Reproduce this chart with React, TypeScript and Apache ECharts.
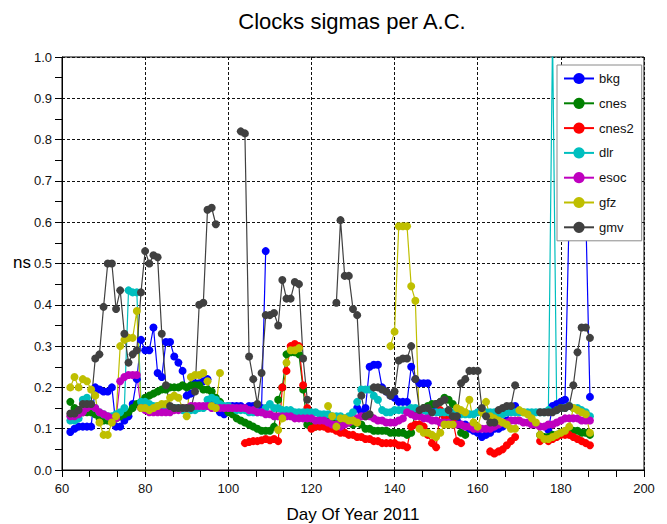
import React, { useEffect, useRef } from "react";
import * as echarts from "echarts";

const N = null;
const FIRST_DAY = 62;
const SERIES_NAMES = ["bkg", "cnes", "cnes2", "dlr", "esoc", "gfz", "gmv"];
const SERIES_COLORS = ["#0000ff", "#008000", "#ff0000", "#00bfbf", "#bf00bf", "#bfbf00", "#404040"];
const X_TICKS = [60, 80, 100, 120, 140, 160, 180, 200];
const Y_TICKS = [0, 0.1, 0.2, 0.3, 0.4, 0.5, 0.6, 0.7, 0.8, 0.9, 1.0];

// values per day, from day 62 to day 187
const bkg = [
  0.092, 0.10, 0.105, 0.105, 0.105, 0.105, 0.20, 0.195, 0.19, 0.19,
  0.20, 0.105, 0.105, 0.12, 0.13, 0.16, 0.22, 0.315, 0.29, 0.29,
  0.345, 0.235, 0.225, 0.31, 0.31, 0.275, 0.26, 0.24, 0.18, 0.185,
  0.21, 0.21, 0.215, 0.22, 0.17, 0.155, 0.14, 0.135, 0.155, 0.155,
  0.155, 0.155, 0.15, 0.155, 0.155, 0.155, 0.15, 0.53, N, N,
  N, N, N, N, N, N, N, N, N, N,
  N, N, N, N, N, N, N, N, N, 0.15,
  0.14, 0.15, 0.25, 0.255, 0.255, 0.20, 0.19, 0.18, 0.175, 0.165,
  0.165, 0.165, 0.25, 0.22, 0.21, 0.21, 0.21, 0.155, 0.15, 0.14,
  0.13, 0.13, 0.12, 0.12, 0.11, 0.11, 0.10, 0.095, 0.09, 0.08,
  0.085, 0.09, 0.10, 0.10, 0.105, 0.12, 0.15, 0.155, N, N,
  N, N, N, N, N, 0.097, 0.155, 0.16, 0.165, 0.17,
  0.62, 0.72, 0.75, 0.72, 0.62, 0.177,
];

const cnes = [
  0.165, 0.15, 0.145, 0.14, 0.14, 0.14, 0.135, 0.125, 0.12, 0.12,
  0.12, 0.125, 0.13, 0.135, 0.14, 0.15, 0.16, 0.165, 0.175, 0.18,
  0.185, 0.19, 0.195, 0.195, 0.20, 0.20, 0.20, 0.205, 0.20, 0.205,
  0.205, 0.205, 0.195, 0.195, 0.19, 0.175, 0.165, 0.15, 0.14, 0.135,
  0.125, 0.12, 0.115, 0.11, 0.105, 0.10, 0.095, 0.095, 0.095, 0.105,
  0.17, 0.20, 0.28, 0.285, 0.285, 0.28, 0.195, 0.11, 0.105, 0.105,
  0.11, 0.11, 0.12, 0.115, 0.115, 0.12, 0.115, 0.115, 0.11, 0.115,
  0.11, 0.10, 0.10, 0.095, 0.095, 0.095, 0.095, 0.09, 0.09, 0.09,
  0.09, 0.085, 0.09, 0.14, 0.145, 0.15, 0.155, 0.16, 0.16, 0.165,
  0.175, 0.17, 0.16, 0.145, 0.09, 0.085, N, N, N, N,
  N, N, N, N, N, N, N, N, N, N,
  N, N, N, 0.085, 0.08, 0.08, 0.085, 0.085, 0.09, 0.09,
  0.09, 0.095, 0.095, 0.09, 0.09, 0.085,
];

const cnes2 = [
  N, N, N, N, N, N, N, N, N, N,
  N, N, N, N, N, N, N, N, N, N,
  N, N, N, N, N, N, N, N, N, N,
  N, N, N, N, N, N, N, N, N, N,
  N, N, 0.065, 0.068, 0.07, 0.07, 0.072, 0.075, 0.072, 0.075,
  0.07, 0.20, 0.24, 0.30, 0.305, 0.30, 0.205, 0.15, 0.10, 0.105,
  0.105, 0.105, 0.10, 0.10, 0.095, 0.09, 0.09, 0.085, 0.085, 0.08,
  0.08, 0.075, 0.075, 0.07, 0.07, 0.065, 0.065, 0.065, 0.065, 0.06,
  0.06, 0.055, 0.105, 0.11, 0.11, 0.105, 0.085, 0.065, 0.055, 0.145,
  0.13, 0.125, 0.12, 0.07, 0.065, N, N, N, N, N,
  N, 0.045, 0.04, 0.045, 0.05, 0.06, 0.07, 0.08, N, N,
  N, N, N, 0.07, 0.075, 0.07, 0.075, 0.08, 0.085, 0.085,
  0.085, 0.08, 0.075, 0.07, 0.065, 0.06,
];

const dlr = [
  0.12, 0.12, 0.125, 0.17, 0.175, 0.16, 0.15, 0.14, 0.135, 0.13,
  0.13, 0.135, 0.14, 0.15, 0.435, 0.43, 0.43, 0.165, 0.165, 0.16,
  0.155, 0.155, 0.15, 0.15, 0.15, 0.15, 0.15, 0.145, 0.145, 0.145,
  0.145, 0.15, 0.15, 0.17, 0.175, 0.17, 0.16, 0.155, 0.155, 0.15,
  0.145, 0.145, 0.145, 0.14, 0.14, 0.14, 0.14, 0.15, 0.16, 0.15,
  0.15, 0.145, 0.145, 0.145, 0.14, 0.14, 0.14, 0.14, 0.14, 0.14,
  0.135, 0.135, 0.135, 0.13, 0.13, 0.13, 0.125, 0.13, 0.14, 0.165,
  0.195, 0.195, 0.195, 0.18, 0.17, 0.145, 0.14, 0.14, 0.145, 0.145,
  0.145, 0.145, 0.15, 0.15, 0.145, 0.145, 0.14, 0.14, 0.14, 0.14,
  0.14, 0.14, 0.14, 0.14, 0.135, 0.135, 0.135, 0.135, 0.14, 0.14,
  0.14, 0.14, 0.14, 0.135, 0.135, 0.14, 0.14, 0.14, 0.14, 0.14,
  0.14, 0.14, 0.14, 0.14, 0.14, 0.145, 1.05, 0.145, 0.15, 0.15,
  0.155, 0.15, 0.15, 0.145, 0.14, 0.13,
];

const esoc = [
  0.13, 0.13, 0.135, 0.14, 0.15, 0.155, 0.15, 0.14, 0.135, 0.13,
  0.125, 0.125, 0.215, 0.225, 0.23, 0.23, 0.23, 0.15, 0.145, 0.14,
  0.14, 0.14, 0.14, 0.14, 0.14, 0.145, 0.145, 0.15, 0.15, 0.155,
  0.155, 0.155, 0.155, 0.155, 0.15, 0.15, 0.15, 0.15, 0.15, 0.15,
  0.15, 0.15, 0.15, 0.145, 0.145, 0.14, 0.14, 0.135, 0.135, 0.13,
  0.13, 0.13, 0.13, 0.13, 0.125, 0.125, 0.125, 0.125, 0.125, 0.12,
  0.12, 0.12, 0.115, 0.11, 0.11, 0.105, 0.11, 0.115, 0.12, 0.125,
  0.13, 0.13, 0.13, 0.125, 0.12, 0.12, 0.115, 0.115, 0.115, 0.12,
  0.125, 0.14, 0.135, 0.13, 0.13, 0.125, 0.125, 0.12, 0.12, 0.115,
  0.115, 0.115, 0.11, 0.11, 0.11, 0.105, 0.105, 0.10, 0.10, 0.10,
  0.10, 0.10, 0.105, 0.11, 0.115, 0.115, 0.12, 0.12, 0.12, 0.115,
  0.115, 0.11, 0.11, 0.105, 0.105, 0.11, 0.11, 0.115, 0.12, 0.125,
  0.125, 0.125, 0.125, 0.12, 0.12, 0.12,
];

const gfz = [
  0.20, 0.225, 0.20, 0.22, 0.215, 0.195, 0.18, 0.115, 0.085, 0.085,
  0.115, 0.13, 0.30, 0.315, 0.32, 0.32, 0.385, 0.15, 0.15, 0.145,
  0.15, 0.155, 0.16, 0.16, 0.175, 0.18, 0.175, 0.15, 0.13, 0.225,
  0.23, 0.23, 0.235, 0.215, 0.155, 0.15, 0.235, N, N, N,
  N, N, N, N, N, N, N, N, N, N,
  0.097, 0.125, 0.26, 0.29, 0.29, 0.295, N, N, N, N,
  N, N, 0.155, 0.13, 0.105, 0.125, 0.125, 0.12, 0.12, 0.115,
  N, N, N, N, N, N, N, 0.30, 0.335, 0.59,
  0.59, 0.59, 0.445, 0.41, 0.10, 0.09, 0.09, 0.085, 0.08, 0.09,
  0.11, 0.11, 0.11, 0.15, 0.145, 0.14, 0.17, 0.115, 0.105, 0.14,
  0.165, 0.13, 0.125, 0.12, 0.115, 0.11, 0.10, 0.10, 0.145, 0.14,
  0.135, 0.125, 0.115, 0.085, 0.075, 0.075, 0.08, 0.085, 0.09, 0.095,
  0.105, 0.15, 0.145, 0.14, 0.135, 0.09,
];

const gmv = [
  0.137, 0.137, 0.145, 0.16, 0.16, 0.16, 0.27, 0.28, 0.395, 0.50,
  0.50, 0.39, 0.435, 0.33, 0.26, 0.28, 0.29, 0.43, 0.53, 0.50,
  0.52, 0.515, 0.33, 0.205, 0.155, 0.15, 0.15, 0.15, 0.15, 0.15,
  0.19, 0.40, 0.405, 0.63, 0.635, 0.595, N, N, N, N,
  N, 0.82, 0.815, 0.275, 0.22, 0.16, 0.235, 0.375, 0.375, 0.38,
  0.35, 0.46, 0.415, 0.415, 0.455, 0.45, 0.27, 0.17, N, N,
  N, N, N, N, 0.405, 0.605, 0.47, 0.47, 0.39, 0.375,
  0.18, 0.13, 0.135, 0.20, 0.20, 0.195, 0.19, 0.18, 0.19, 0.265,
  0.27, 0.27, 0.30, 0.22, 0.145, 0.15, 0.15, 0.14, 0.16, 0.165,
  0.17, 0.145, 0.13, 0.13, 0.21, 0.22, 0.24, 0.24, 0.24, 0.15,
  0.13, 0.115, 0.115, 0.145, 0.15, 0.155, 0.155, 0.205, N, N,
  N, N, N, 0.14, 0.14, 0.14, 0.14, 0.145, 0.15, 0.15,
  0.155, 0.205, 0.285, 0.345, 0.345, 0.32,
];

const SERIES_VALUES = [bkg, cnes, cnes2, dlr, esoc, gfz, gmv];

const FONT = "'Liberation Sans', Arial, Helvetica, sans-serif";

// layout
const G_LEFT = 62;
const G_RIGHT_EDGE = 644;
const G_TOP = 57;
const G_BOTTOM_EDGE = 470;

export default function App() {
  const ref = useRef<HTMLDivElement>(null);
  useEffect(() => {
    if (!ref.current) return;
    const chart = echarts.init(ref.current, undefined, { renderer: "svg" });
    const series = SERIES_NAMES.map((name, si) => ({
      name,
      type: "line",
      data: SERIES_VALUES[si].map((v, i) => [FIRST_DAY + i, v]),
      symbol: "circle",
      symbolSize: 8,
      showSymbol: true,
      showAllSymbol: true,
      connectNulls: false,
      clip: true,
      color: SERIES_COLORS[si],
      itemStyle: { color: SERIES_COLORS[si] },
      lineStyle: { color: SERIES_COLORS[si], width: 1.2 },
      emphasis: { disabled: true },
    }));
    chart.setOption({
      animation: false,
      backgroundColor: "#ffffff",
      textStyle: { fontFamily: FONT },
      grid: {
        left: G_LEFT,
        right: 667 - G_RIGHT_EDGE,
        top: G_TOP,
        bottom: 524 - G_BOTTOM_EDGE,
        show: true,
        borderColor: "#000",
        borderWidth: 1,
        backgroundColor: "transparent",
      },
      xAxis: {
        type: "value",
        min: X_TICKS[0],
        max: X_TICKS[X_TICKS.length - 1],
        interval: 20,
        axisLine: { show: true, lineStyle: { color: "#000", width: 1 } },
        axisTick: { show: true, inside: false, length: 7, lineStyle: { color: "#000" } },
        minorTick: { show: true, splitNumber: 3, length: 7, lineStyle: { color: "#000" } },
        axisLabel: { color: "#111", fontSize: 13, margin: 12, fontFamily: FONT },
        splitLine: { show: true, lineStyle: { color: "#111", type: [3, 2], width: 1 } },
      },
      yAxis: {
        type: "value",
        min: Y_TICKS[0],
        max: Y_TICKS[Y_TICKS.length - 1],
        interval: 0.1,
        axisLine: { show: true, lineStyle: { color: "#000", width: 1 } },
        axisTick: { show: true, inside: false, length: 7, lineStyle: { color: "#000" } },
        minorTick: { show: true, splitNumber: 2, length: 7, lineStyle: { color: "#000" } },
        axisLabel: {
          color: "#111",
          fontSize: 13,
          margin: 10,
          fontFamily: FONT,
          formatter: (v: number) => v.toFixed(1),
        },
        splitLine: { show: true, lineStyle: { color: "#111", type: [3, 2], width: 1 } },
      },
      legend: {
        show: true,
        orient: "vertical",
        left: 557,
        top: 65,
        padding: [7, 8, 7, 6],
        itemWidth: 30,
        itemHeight: 14,
        itemGap: 11.8,
        backgroundColor: "#ffffff",
        borderColor: "#8a8a8a",
        borderWidth: 1,
        z: 10,
        textStyle: { color: "#111", fontSize: 13, fontFamily: FONT },
        data: SERIES_NAMES,
      },
      graphic: [
        {
          type: "text",
          z: 20,
          style: {
            text: "Clocks sigmas per A.C.",
            x: 352,
            y: 21,
            textAlign: "center",
            textVerticalAlign: "middle",
            align: "center",
            verticalAlign: "middle",
            fontSize: 22,
            fontFamily: FONT,
            fill: "#000",
          },
        },
        {
          type: "text",
          z: 20,
          style: {
            text: "Day Of Year 2011",
            x: 353,
            y: 514,
            textAlign: "center",
            textVerticalAlign: "middle",
            align: "center",
            verticalAlign: "middle",
            fontSize: 17,
            fontFamily: FONT,
            fill: "#000",
          },
        },
        {
          type: "text",
          z: 20,
          style: {
            text: "ns",
            x: 22,
            y: 262,
            textAlign: "center",
            textVerticalAlign: "middle",
            align: "center",
            verticalAlign: "middle",
            fontSize: 17,
            fontFamily: FONT,
            fill: "#000",
          },
        },
      ],
      series,
    });
    return () => chart.dispose();
  }, []);
  return (
    <div
      ref={ref}
      style={{ position: "fixed", left: 0, top: 0, width: 667, height: 524, background: "#fff" }}
    />
  );
}
